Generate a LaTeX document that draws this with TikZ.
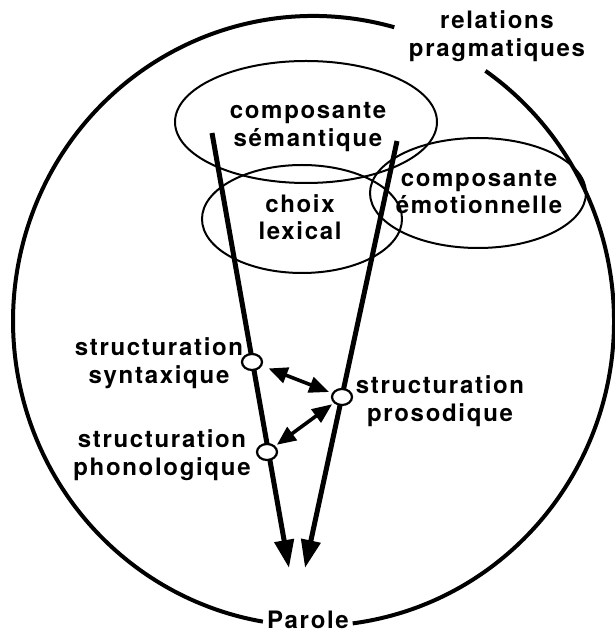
\documentclass[tikz,border=0pt]{standalone}
\usepackage{fontspec}
\newfontfamily\labfont{TeX Gyre Heros}[LetterSpace=7]
\usetikzlibrary{arrows.meta,shapes.geometric,backgrounds}
\begin{document}
\begin{tikzpicture}[x=1pt,y=1pt,
  lab/.style={font=\labfont\bfseries\fontsize{24}{27.5}\selectfont, align=center, inner sep=0pt},
  ell/.style={draw, ellipse, line width=2pt, inner sep=0pt},
  dot/.style={draw, ellipse, fill=white, line width=2.2pt, minimum width=20pt, minimum height=16pt, inner sep=0pt},
  mainarrow/.style={line width=5pt, -{Triangle[length=28pt,width=19pt]}},
  dblarrow/.style={line width=3.6pt, {Triangle[length=19pt,width=16pt]}-{Triangle[length=20pt,width=16pt]}},
  bigc/.style={line width=4pt}]
\useasboundingbox (0,0) rectangle (614,632);

% outer circle (two arcs, gaps for labels)
\draw[bigc] (313.5,311) ++(74.4:300.5 and 305) arc[start angle=74.4,end angle=260.3,x radius=300.5,y radius=305];
\draw[bigc] (313.5,311) ++(277.5:300.5 and 305) arc[start angle=277.5,end angle=415.1,x radius=300.5,y radius=305];

% ellipses
\node[ell, minimum width=262pt, minimum height=122pt] (sem) at (306,510) {};
\node[ell, minimum width=200pt, minimum height=108pt] (lex) at (302,413) {};
\node[ell, minimum width=216pt, minimum height=110pt] (emo) at (478,439) {};

% labels
\node[lab] (trel) at (497,596) {relations\\pragmatiques};
\node[lab] (tsem) at (308,505) {composante\\sémantique};
\node[lab] (tlex) at (300,415) {choix\\lexical};
\node[lab] (temo) at (479,440) {composante\\émotionnelle};
\node[lab] (tsyn) at (159,269) {structuration\\syntaxique};
\node[lab] (tphon) at (162,177) {structuration\\phonologique};
\node[lab] (tpros) at (440,231) {structuration\\prosodique};
\node[lab] (tpar) at (308,12.5) {Parole};

% small circles
\node[dot] (syn) at (252,270) {};
\node[dot] (pros) at (342,235) {};
\node[dot] (phon) at (267,180) {};

% main arrows
\coordinate (Ltop) at (212,499);
\coordinate (Lbot) at (289,64);
\coordinate (Rtop) at (397,491);
\coordinate (Rbot) at (305,64);
\begin{scope}[on background layer]
\draw[mainarrow] (Ltop) -- (Lbot);
\draw[mainarrow] (Rtop) -- (Rbot);
\end{scope}

% double arrows
\draw[dblarrow, shorten <=7pt, shorten >=3pt] (syn) -- (pros);
\draw[dblarrow, shorten <=2pt, shorten >=2pt] (phon) -- (pros);
\end{tikzpicture}
\end{document}
